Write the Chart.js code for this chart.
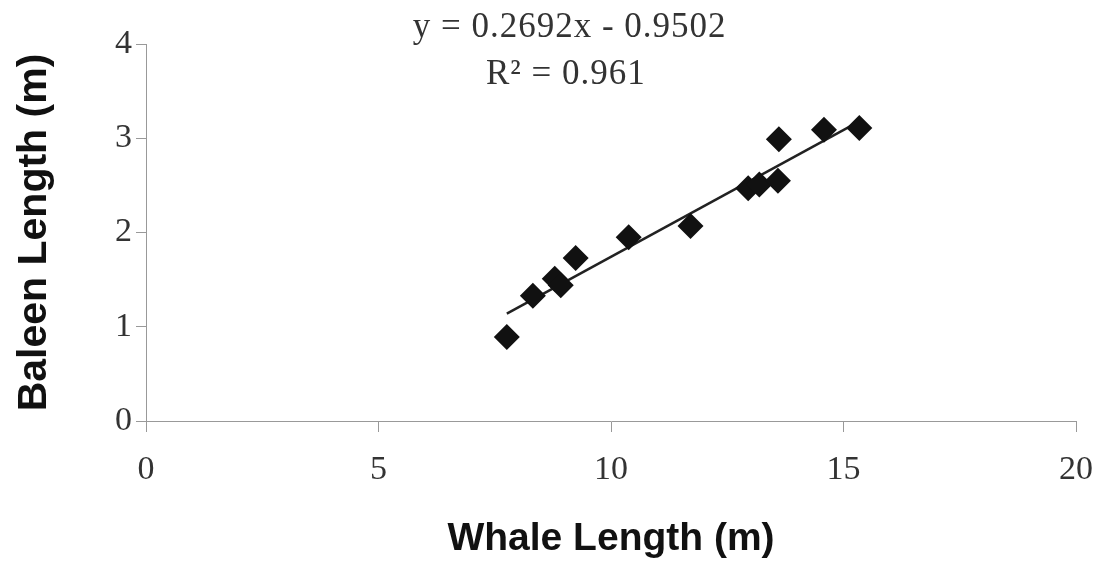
<!DOCTYPE html>
<html lang="en">
<head>
    <meta charset="UTF-8">
    <title>Baleen vs Whale Length</title>
    <script src="https://cdn.jsdelivr.net/npm/chart.js"></script>
    <style>
        html, body { margin: 0; padding: 0; background: #fff; }
        .chart-container { width: 1100px; height: 566px; position: relative; }
    </style>
</head>
<body>

<div class="chart-container">
    <canvas id="whaleChart"></canvas>
</div>

<script>
    // Data
    var whaleLength = [7.76, 8.32, 8.79, 8.92, 9.24, 10.38, 11.71, 12.95, 13.19, 13.59, 13.61, 14.58, 15.34];
    var baleenLength = [0.89, 1.33, 1.51, 1.44, 1.73, 1.95, 2.07, 2.47, 2.51, 2.55, 2.99, 3.09, 3.11];
    var xTicks = [0, 5, 10, 15, 20];
    var yTicks = [0, 1, 2, 3, 4];

    // Linear trendline as printed on the chart
    var slope = 0.2692;
    var intercept = -0.9502;
    var rSquared = 0.961;

    var points = whaleLength.map(function(x, i) { return { x: x, y: baleenLength[i] }; });
    var xMin = Math.min.apply(null, whaleLength);
    var xMax = Math.max.apply(null, whaleLength);
    var trend = [
        { x: xMin, y: slope * xMin + intercept },
        { x: xMax, y: slope * xMax + intercept }
    ];

    // Equation label drawn in the plot, anchored to data coordinates
    var equationLabel = {
        id: 'equationLabel',
        afterDraw: function(chart) {
            var ctx = chart.ctx;
            var xs = chart.scales.x, ys = chart.scales.y;
            ctx.save();
            ctx.fillStyle = '#333';
            ctx.font = '35px "Liberation Serif"';
            ctx.letterSpacing = '1px';
            ctx.textAlign = 'center';
            ctx.textBaseline = 'alphabetic';
            ctx.fillText('y = ' + slope + 'x - ' + Math.abs(intercept), xs.getPixelForValue(9.11), ys.getPixelForValue(4.07));
            ctx.fillText('R\u00b2 = ' + rSquared, xs.getPixelForValue(9.03), ys.getPixelForValue(3.58));
            ctx.restore();
        }
    };

    var tickFont = { family: 'Liberation Serif', size: 34 };

    var ctx = document.getElementById('whaleChart').getContext('2d');
    var myChart = new Chart(ctx, {
        type: 'scatter',
        data: {
            datasets: [
                {
                    label: 'Baleen',
                    data: points,
                    pointStyle: 'rectRot',
                    pointRadius: 13,
                    pointHoverRadius: 13,
                    backgroundColor: '#111',
                    borderColor: '#111',
                    borderWidth: 0,
                    order: 1
                },
                {
                    label: 'Trend',
                    type: 'line',
                    data: trend,
                    borderColor: '#222',
                    borderWidth: 2.5,
                    pointRadius: 0,
                    fill: false,
                    order: 2
                }
            ]
        },
        options: {
            responsive: true,
            maintainAspectRatio: false,
            animation: false,
            layout: { padding: { left: 0, right: 24, top: 44, bottom: 0 } },
            plugins: {
                legend: { display: false },
                tooltip: { enabled: false }
            },
            scales: {
                x: {
                    type: 'linear',
                    min: 0,
                    max: 20,
                    afterBuildTicks: function(scale) {
                        scale.ticks = xTicks.map(function(v) { return { value: v }; });
                    },
                    afterFit: function(scale) {
                        scale.height = 145;
                        scale.paddingLeft = 0;
                        scale.paddingRight = 0;
                    },
                    grid: { display: true, drawOnChartArea: false, drawTicks: true, tickLength: 11, color: '#999' },
                    border: { display: true, color: '#999', width: 1 },
                    ticks: { font: tickFont, color: '#333', padding: 18, maxRotation: 0 },
                    title: { display: true, text: 'Whale Length (m)', font: { family: 'Liberation Sans', size: 39, weight: 'bold' }, color: '#111', padding: { top: 0, bottom: 3 } }
                },
                y: {
                    type: 'linear',
                    min: 0,
                    max: 4,
                    afterBuildTicks: function(scale) {
                        scale.ticks = yTicks.map(function(v) { return { value: v }; });
                    },
                    afterFit: function(scale) {
                        scale.width = 146;
                        scale.paddingTop = 0;
                        scale.paddingBottom = 0;
                    },
                    grid: { display: true, drawOnChartArea: false, drawTicks: true, tickLength: 10, color: '#999' },
                    border: { display: true, color: '#999', width: 1 },
                    ticks: { font: tickFont, color: '#333', padding: 4 },
                    title: { display: true, text: 'Baleen Length (m)', font: { family: 'Liberation Sans', size: 41, weight: 'bold' }, color: '#111', padding: { top: 10, bottom: 0 } }
                }
            }
        },
        plugins: [equationLabel]
    });
</script>

</body>
</html>
